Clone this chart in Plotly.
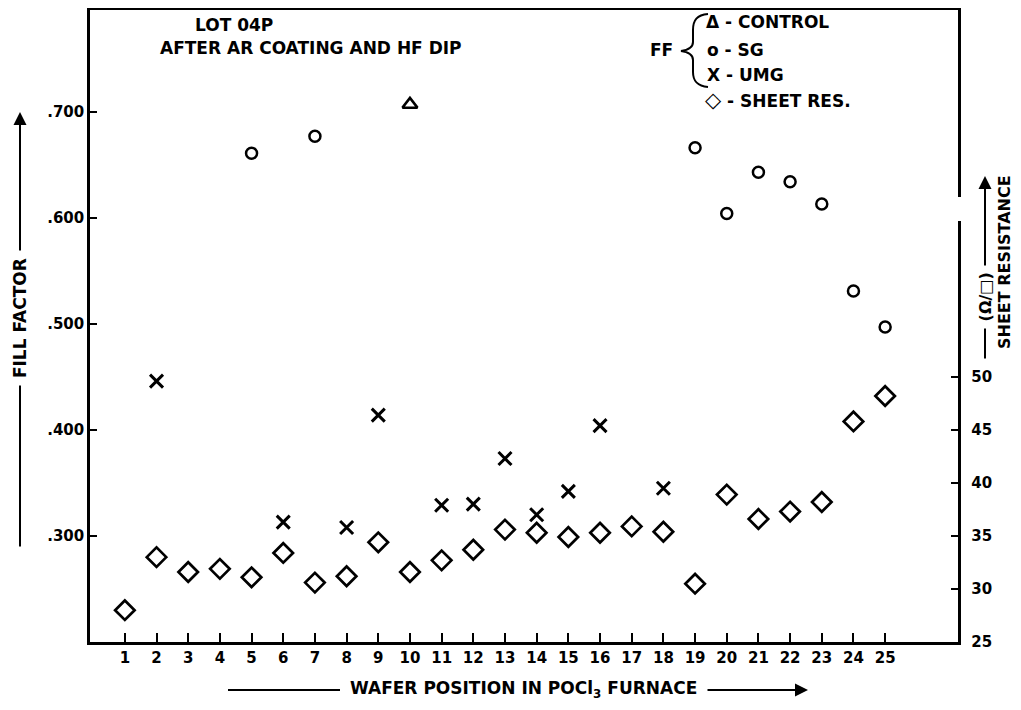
import plotly.graph_objects as go

# ---- data ----
positions = list(range(1, 26))
control_pos = [10]
control_ff = [0.707]
sg_pos = [5, 7, 19, 20, 21, 22, 23, 24, 25]
sg_ff = [0.661, 0.677, 0.666, 0.604, 0.643, 0.634, 0.613, 0.531, 0.497]
umg_pos = [2, 6, 8, 9, 11, 12, 13, 14, 15, 16, 18]
umg_ff = [0.446, 0.313, 0.308, 0.414, 0.329, 0.330, 0.373, 0.320, 0.342, 0.404, 0.345]
sheet_res = [28.0, 33.0, 31.6, 31.9, 31.1, 33.4, 30.6, 31.2, 34.4, 31.6, 32.7, 33.7,
             35.6, 35.3, 34.9, 35.3, 35.9, 35.4, 30.5, 38.9, 36.6, 37.3, 38.2, 45.8, 48.2]

ff_ticks = [0.3, 0.4, 0.5, 0.6, 0.7]
ff_ticktext = [".300", ".400", ".500", ".600", ".700"]
sr_ticks = [25, 30, 35, 40, 45, 50]
sr_ticktext = ["25", "30", "35", "40", "45", "50"]

FONT = "DejaVu Sans"
OFF = 8  # page body margin
W, H = 1021 - 2 * OFF, 710 - 2 * OFF
# plot frame in reference pixels: x 90..958, y 10..642
L, T = 90 - OFF, 10 - OFF
R, B = W - (958 - OFF), H - (642 - OFF)
PW, PH = W - L - R, H - T - B


def px(x):
    return (x - OFF - L) / PW


def py(y):
    return (T + PH - (y - OFF)) / PH


fig = go.Figure()
fig.add_trace(go.Scatter(x=control_pos, y=control_ff, mode="markers", name="CONTROL",
                         marker=dict(symbol="triangle-up-open", size=13, color="black",
                                     line=dict(width=2.5, color="black"))))
fig.add_trace(go.Scatter(x=sg_pos, y=sg_ff, mode="markers", name="SG",
                         marker=dict(symbol="circle-open", size=11, color="black",
                                     line=dict(width=2.5, color="black"))))
fig.add_trace(go.Scatter(x=umg_pos, y=umg_ff, mode="markers", name="UMG",
                         marker=dict(symbol="x-thin-open", size=13, color="black",
                                     line=dict(width=3, color="black"))))
fig.add_trace(go.Scatter(x=positions, y=sheet_res, mode="markers", name="SHEET RES.",
                         yaxis="y2",
                         marker=dict(symbol="diamond-open", size=15, color="black",
                                     line=dict(width=2.7, color="black"))))

tickfont = dict(family=FONT, size=15, color="black", weight="bold")

fig.update_layout(
    width=W, height=H,
    margin=dict(l=L, r=R, t=T, b=B, autoexpand=False),
    paper_bgcolor="white", plot_bgcolor="white",
    showlegend=False,
    xaxis=dict(range=[-0.1, 27.3], tickvals=positions, ticktext=[str(p) for p in positions],
               ticks="inside", ticklen=9, tickwidth=2, tickcolor="black",
               showline=True, linewidth=2.5, linecolor="black", mirror=True,
               showgrid=False, zeroline=False, tickfont=tickfont),
    yaxis=dict(range=[0.2, 0.796], tickvals=ff_ticks, ticktext=ff_ticktext,
               ticks="inside", ticklen=7, tickwidth=2, tickcolor="black",
               showline=True, linewidth=2.5, linecolor="black",
               showgrid=False, zeroline=False, tickfont=tickfont),
    yaxis2=dict(range=[25, 84.6], tickvals=sr_ticks,
                ticktext=["\u2002" + t for t in sr_ticktext],
                overlaying="y", side="right",
                ticks="inside", ticklen=7, tickwidth=2, tickcolor="black",
                showline=True, linewidth=2.5, linecolor="black",
                showgrid=False, zeroline=False, tickfont=tickfont),
)

anns = []


def text(x, y, s, angle=0, xanchor="center", size=15, bg=None, weight="bold"):
    d = dict(x=px(x), y=py(y), xref="paper", yref="paper", text=s, showarrow=False,
             textangle=angle, xanchor=xanchor, yanchor="middle",
             font=dict(family=FONT, size=size, color="black", weight=weight))
    if bg:
        d["bgcolor"] = bg
    anns.append(d)


def arrow(x0, y0, x1, y1):
    anns.append(dict(x=px(x1), y=py(y1), xref="paper", yref="paper",
                     ax=x0 - x1, ay=y0 - y1,
                     text="", showarrow=True, arrowhead=2, arrowsize=1.3,
                     arrowwidth=2, arrowcolor="black"))


# title text
text(193, 25, "LOT 04P", xanchor="left", size=17)
text(158, 48, "AFTER AR COATING AND HF DIP", xanchor="left", size=17)

# legend
text(704, 22, "Δ - CONTROL", xanchor="left", size=17)
text(705, 50, "o - SG", xanchor="left", size=17)
text(705, 75, "X - UMG", xanchor="left", size=17)
text(703, 100, "<span style='font-size:21px'>◇</span> - SHEET RES.", xanchor="left", size=17)
text(648, 50, "FF", xanchor="left", size=17)


# brace drawn as a thin path
def P(x, y):
    return f"{px(x):.5f},{py(y):.5f}"


brace = ("M " + P(708, 14) + " C " + P(697, 15) + " " + P(693, 20) + " " + P(693, 30) +
         " L " + P(693, 42) + " C " + P(693, 47) + " " + P(688, 50) + " " + P(681, 51) +
         " C " + P(688, 52) + " " + P(693, 55) + " " + P(693, 60) +
         " L " + P(693, 72) + " C " + P(693, 81) + " " + P(697, 86) + " " + P(708, 87))

shapes = [
    dict(type="path", path=brace, xref="paper", yref="paper",
         line=dict(color="black", width=2)),
    # small break in the right frame line (as in the scan)
    dict(type="rect", xref="paper", yref="paper", x0=px(954), x1=px(962),
         y0=py(221), y1=py(197), fillcolor="white", line=dict(width=0), layer="above"),
    # left segment of the bottom title line
    dict(type="line", xref="paper", yref="paper", x0=px(228), x1=px(340),
         y0=py(690), y1=py(690), line=dict(color="black", width=2)),
]

# left axis title with arrow
arrow(20, 548, 20, 112)
text(20, 318, " FILL FACTOR ", angle=-90, bg="white", size=17)

# right axis titles
arrow(985, 360, 985, 176)
text(985, 297, " (Ω/□) ", angle=-90, bg="white", size=16)
text(1004, 262, "SHEET RESISTANCE", angle=-90, size=16)

# bottom axis title
arrow(706, 690, 808, 690)
text(523, 689, "WAFER POSITION IN POCl<sub>3</sub> FURNACE", size=17)

fig.update_layout(annotations=anns, shapes=shapes)
fig.write_html("out.html")
